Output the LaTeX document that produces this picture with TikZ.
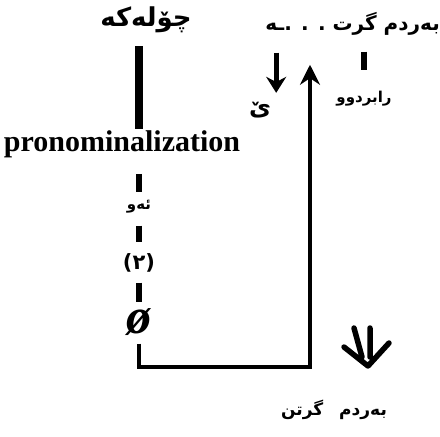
\documentclass[tikz,border=0pt]{standalone}
\usepackage{fontspec}
\setmainfont{Liberation Serif}
\newfontfamily\kurdfont[Script=Arabic]{DejaVu Sans}
\TeXXeTstate=1
\usetikzlibrary{arrows.meta,positioning}
\newcommand{\kurd}[1]{{\kurdfont\bfseries\beginR #1\endR}}

\begin{document}
\begin{tikzpicture}[x=1pt, y=-1pt, >=Stealth,
  word/.style={inner sep=1pt},
  bar/.style={line width=5.5pt},
  link/.style={line width=4pt}]
  \useasboundingbox (0,0) rectangle (440,437);

  % Words
  \node[word, font=\fontsize{26}{30}\selectfont] (bird) at (146,20) {\kurd{چۆلەکە}};
  \node[word, font=\fontsize{20}{24}\selectfont, anchor=east] (took) at (441,24) {\kurd{بەردم گرت . . .ـە}};
  \node[word, font=\fontsize{24}{28}\selectfont] (ye) at (260,110) {\kurd{ێ}};
  \node[word, font=\fontsize{15}{18}\selectfont] (past) at (364,99) {\kurd{رابردوو}};
  \node[word, font=\fontsize{30}{34}\selectfont\bfseries] (pron) at (122,144) {pronominalization};
  \node[word, font=\fontsize{15}{18}\selectfont] (he) at (139,207) {\kurd{ئەو}};
  \node[word, font=\fontsize{21}{24}\selectfont] (two) at (139,263) {\kurd{(٢)}};
  \node[word, font=\fontsize{50}{54}\selectfont\bfseries\itshape] (null) at (139,322) {ø};
  \node[word, font=\fontsize{17}{20}\selectfont] (taking) at (334,410) {\kurd{بەردم\hspace{16pt}گرتن}};

  % Left column
  \draw[line width=8pt, shorten <=12pt] (bird.south -| he) -- (pron.north -| he);
  \draw[bar, shorten <=15pt, shorten >=7pt] (pron.south -| he) -- (he);
  \draw[bar, shorten <=11pt, shorten >=10pt] (he) -- (two);
  \draw[bar, shorten <=9pt, shorten >=5pt] (two) -- (null.north -| he);

  % Bracket up to the top
  \coordinate (turn) at (310,367);
  \draw[link, shorten <=7pt, shorten >=28pt, -{Stealth[length=20pt, width=20pt]}]
    (null.south -| he) |- (turn) -- (took.south -| turn);

  % Small arrows
  \draw[line width=5pt, shorten <=16pt, shorten >=8pt, -{Stealth[length=16pt, width=20pt]}]
    ([xshift=4pt]took.south -| ye.east) -- ([xshift=4pt]ye.north east);
  \draw[bar, shorten <=15pt, shorten >=20pt] (took.south -| past) -- (past.north);

  % Double arrow
  \draw[line width=5.5pt, line cap=round, line join=round]
    (354,328) -- (362,357) (370,328) -- (370,357) (344,347) -- (368,366) -- (389,343);
\end{tikzpicture}
\end{document}
